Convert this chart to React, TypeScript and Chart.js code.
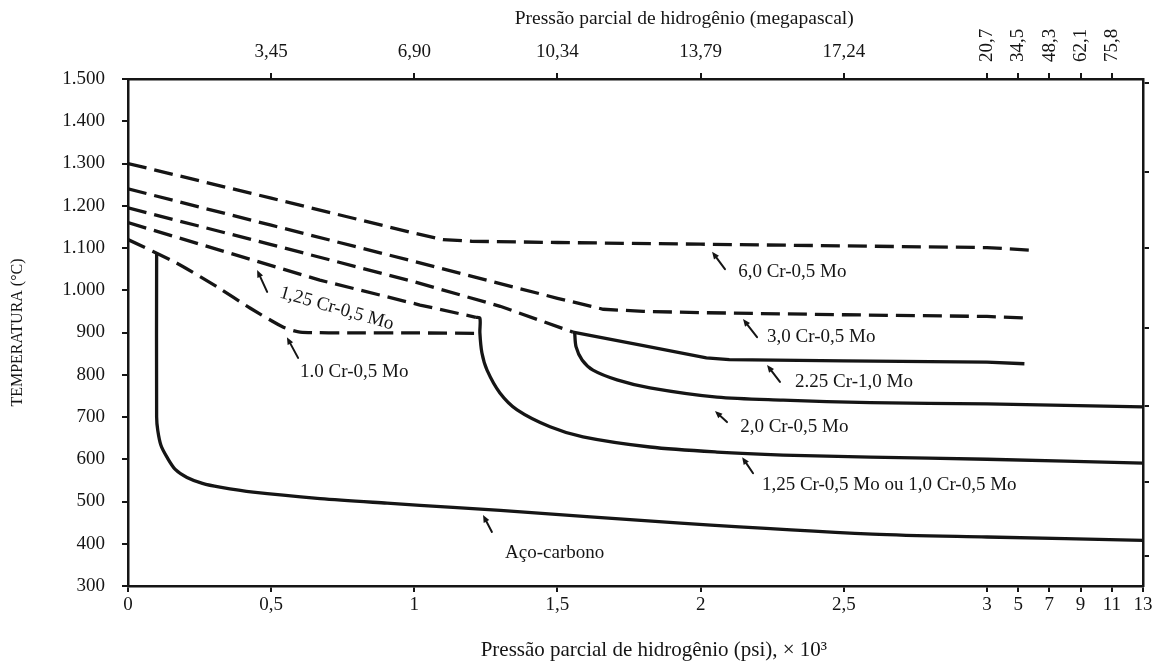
import React, { useEffect, useRef } from 'react';
import { Chart, registerables, LinearScale } from 'chart.js';

Chart.register(...registerables);

const FONT = '"Liberation Serif", "Times New Roman", serif';
const INK = '#151515';

// ---------- axis ticks ----------
const PSI_TICKS = [0, 0.5, 1, 1.5, 2, 2.5, 3, 5, 7, 9, 11, 13];
const PSI_LABELS = ['0', '0,5', '1', '1,5', '2', '2,5', '3', '5', '7', '9', '11', '13'];
const MPA_TICKS = [0.5, 1, 1.5, 2, 2.5];
const MPA_LABELS = ['3,45', '6,90', '10,34', '13,79', '17,24'];
const MPA_HIGH_TICKS = [3, 5, 7, 9, 11];
const MPA_HIGH_LABELS = ['20,7', '34,5', '48,3', '62,1', '75,8'];
const TEMP_TICKS = [300, 400, 500, 600, 700, 800, 900, 1000, 1100, 1200, 1300, 1400, 1500];
const TEMP_LABELS = ['300', '400', '500', '600', '700', '800', '900', '1.000', '1.100', '1.200', '1.300', '1.400', '1.500'];
const RIGHT_TICKS = [1490, 1280, 1100, 910, 725, 545, 370];

// ---------- series: [pressure (psi x 10^3), temperature (°C)] ----------
const CR60_05MO = [[0, 1300], [0.5, 1218], [1.0, 1135], [1.1, 1120], [1.2, 1116], [1.5, 1113], [2.0, 1109], [2.5, 1105], [3, 1101], [5.75, 1095]];
const CR30_05MO = [[0, 1240], [0.5, 1154], [1.0, 1068], [1.5, 981], [1.66, 955], [1.8, 950], [2.0, 947], [2.5, 942], [3, 938], [5.75, 934]];
const CR225_10MO_DASHED = [[0, 1195], [0.5, 1108], [1.0, 1020], [1.3, 962], [1.554, 901]];
const CR225_10MO_SOLID = [[1.554, 901], [1.8, 869], [2.02, 840], [2.1, 836], [2.5, 833], [3, 830], [5.4, 826]];
const CR125_05MO_DASHED = [[0, 1160], [0.32, 1095], [0.67, 1024], [1.02, 965], [1.215, 936]];
const CR10_05MO_DASHED = [[0, 1120], [0.171, 1064], [0.311, 1008], [0.426, 958], [0.541, 913], [0.601, 901], [0.8, 899], [1.0, 899], [1.229, 898]];
const CR20_05MO = [[1.56, 900], [1.565, 866], [1.586, 835], [1.624, 811], [1.708, 788], [1.823, 769], [2.057, 747], [2.288, 740], [2.592, 734], [3, 731], [13, 724]];
const CR125_OR_CR10_SOLID = [[1.215, 936], [1.229, 934], [1.229, 899], [1.236, 852], [1.254, 811], [1.299, 757], [1.359, 717], [1.474, 677], [1.589, 653], [1.823, 629], [2.057, 617], [2.288, 610], [2.592, 605], [3, 600], [13, 591]];
const CARBON_STEEL = [[0.1, 1086], [0.1, 700], [0.104, 668], [0.115, 633], [0.136, 605], [0.165, 576], [0.206, 557], [0.26, 543], [0.321, 534], [0.437, 522], [0.671, 507], [0.905, 496], [1.135, 486], [1.3, 479], [1.93, 449], [2.6, 423], [3, 416], [13, 408]];

// ---------- curve labels (text anchor + arrow tail/tip in data units) ----------
const CURVE_LABELS = [
  { text: '6,0 Cr-0,5 Mo', at: [2.131, 1043], tail: [2.085, 1050], tip: [2.040, 1091], angle: 0 },
  { text: '3,0 Cr-0,5 Mo', at: [2.232, 889], tail: [2.197, 889], tip: [2.148, 932], angle: 0 },
  { text: '2.25 Cr-1,0 Mo', at: [2.330, 783], tail: [2.277, 783], tip: [2.232, 823], angle: 0 },
  { text: '2,0 Cr-0,5 Mo', at: [2.138, 676], tail: [2.092, 688], tip: [2.050, 714], angle: 0 },
  { text: '1,25 Cr-0,5 Mo ou 1,0 Cr-0,5 Mo', at: [2.214, 539], tail: [2.183, 567], tip: [2.145, 605], angle: 0 },
  { text: 'Aço-carbono', at: [1.317, 378], tail: [1.271, 428], tip: [1.240, 468], angle: 0 },
  { text: '1,25 Cr-0,5 Mo', at: [0.531, 995], tail: [0.486, 996], tip: [0.451, 1048], angle: 16 },
  { text: '1.0 Cr-0,5 Mo', at: [0.601, 807], tail: [0.594, 840], tip: [0.555, 889], angle: 0 },
];

// ---------- broken pressure axis (linear to 3, compressed beyond) ----------
const AXIS_BREAK = 3;
const HIGH_RANGE_FACTOR = 0.0545;
const toAxisPos = (v: number) => (v <= AXIS_BREAK ? v : AXIS_BREAK + (v - AXIS_BREAK) * HIGH_RANGE_FACTOR);
const fromAxisPos = (p: number) => (p <= AXIS_BREAK ? p : AXIS_BREAK + (p - AXIS_BREAK) / HIGH_RANGE_FACTOR);

class BrokenLinearScale extends LinearScale {
  static id = 'brokenLinear';
  static defaults = {};
  getPixelForValue(value: any) {
    if (value === null || value === undefined || Number.isNaN(value)) return NaN;
    const lo = toAxisPos(this.min);
    const hi = toAxisPos(this.max);
    return this.getPixelForDecimal((toAxisPos(value) - lo) / (hi - lo));
  }
  getValueForPixel(pixel: number) {
    const lo = toAxisPos(this.min);
    const hi = toAxisPos(this.max);
    return fromAxisPos(lo + this.getDecimalForPixel(pixel) * (hi - lo));
  }
}

// same axis, but its tick labels are not clipped to its (zero-height) box
class BrokenLinearOverlayScale extends BrokenLinearScale {
  static id = 'brokenLinearOverlay';
  static defaults = {};
  _computeLabelArea() {
    return undefined;
  }
}
Chart.register(BrokenLinearScale as any, BrokenLinearOverlayScale as any);

const toPoints = (arr: number[][]) => arr.map(([x, y]) => ({ x, y }));

const curveLabelPlugin = {
  id: 'curveLabels',
  afterDatasetsDraw(chart: any) {
    const { ctx, scales } = chart;
    const xs = scales.x;
    const ys = scales.y;
    ctx.save();
    ctx.fillStyle = INK;
    ctx.strokeStyle = INK;
    ctx.lineWidth = 2;
    ctx.lineCap = 'round';
    for (const l of CURVE_LABELS) {
      const tx = xs.getPixelForValue(l.tail[0]);
      const ty = ys.getPixelForValue(l.tail[1]);
      const hx = xs.getPixelForValue(l.tip[0]);
      const hy = ys.getPixelForValue(l.tip[1]);
      const ang = Math.atan2(hy - ty, hx - tx);
      const head = 8;
      ctx.beginPath();
      ctx.moveTo(tx, ty);
      ctx.lineTo(hx - Math.cos(ang) * head * 0.6, hy - Math.sin(ang) * head * 0.6);
      ctx.stroke();
      ctx.beginPath();
      ctx.moveTo(hx, hy);
      ctx.lineTo(hx - head * Math.cos(ang - 0.4), hy - head * Math.sin(ang - 0.4));
      ctx.lineTo(hx - head * Math.cos(ang + 0.4), hy - head * Math.sin(ang + 0.4));
      ctx.closePath();
      ctx.fill();

      const ax = xs.getPixelForValue(l.at[0]);
      const ay = ys.getPixelForValue(l.at[1]);
      ctx.save();
      ctx.translate(ax, ay);
      ctx.rotate((l.angle * Math.PI) / 180);
      ctx.font = `19px ${FONT}`;
      ctx.textAlign = 'left';
      ctx.textBaseline = 'middle';
      ctx.fillText(l.text, 0, 0);
      ctx.restore();
    }
    ctx.restore();
  },
};

const tickFont = { family: FONT, size: 19 };
const axisGrid = { display: true, drawOnChartArea: false, drawTicks: true, tickLength: 6, color: INK, lineWidth: 2 };
const axisBorder = { display: true, color: INK, width: 2.5 };

function lineDs(label: string, data: number[][], dashed: boolean, tension: number) {
  return {
    label,
    data: toPoints(data),
    borderColor: INK,
    borderWidth: 3.3,
    borderDash: dashed ? [19, 8] : [],
    pointRadius: 0,
    tension,
    fill: false,
    xAxisID: 'x',
    yAxisID: 'y',
  };
}

export default function App() {
  const ref = useRef<HTMLCanvasElement>(null);
  useEffect(() => {
    if (!ref.current) return;
    const chart = new Chart(ref.current, {
      type: 'line',
      data: {
        datasets: [
          lineDs('6,0 Cr-0,5 Mo', CR60_05MO, true, 0),
          lineDs('3,0 Cr-0,5 Mo', CR30_05MO, true, 0),
          lineDs('2.25 Cr-1,0 Mo (tracejado)', CR225_10MO_DASHED, true, 0),
          lineDs('2.25 Cr-1,0 Mo', CR225_10MO_SOLID, false, 0),
          lineDs('1,25 Cr-0,5 Mo (tracejado)', CR125_05MO_DASHED, true, 0),
          lineDs('1.0 Cr-0,5 Mo (tracejado)', CR10_05MO_DASHED, true, 0.2),
          lineDs('2,0 Cr-0,5 Mo', CR20_05MO, false, 0.3),
          lineDs('1,25 Cr-0,5 Mo ou 1,0 Cr-0,5 Mo', CR125_OR_CR10_SOLID, false, 0.3),
          lineDs('Aço-carbono', CARBON_STEEL, false, 0.3),
        ],
      },
      options: {
        responsive: true,
        maintainAspectRatio: false,
        animation: false,
        events: [],
        layout: { padding: 0 },
        plugins: { legend: { display: false }, tooltip: { enabled: false } },
        scales: {
          x: {
            type: 'brokenLinear' as any,
            position: 'bottom',
            min: 0,
            max: 13,
            afterBuildTicks: (s: any) => { s.ticks = PSI_TICKS.map((v) => ({ value: v })); },
            afterFit: (s: any) => { s.height = 77; },
            ticks: {
              autoSkip: false, maxRotation: 0, minRotation: 0, padding: 2, color: INK, font: tickFont,
              callback: (v: any) => PSI_LABELS[PSI_TICKS.indexOf(Number(v))] ?? '',
            },
            grid: axisGrid,
            border: axisBorder,
            title: {
              display: true,
              text: '       Pressão parcial de hidrogênio (psi), × 10³',
              color: INK,
              font: { family: FONT, size: 21 },
              padding: { top: 0, bottom: 0 },
            },
          },
          xTop: {
            type: 'brokenLinearOverlay' as any,
            position: 'top',
            weight: 0,
            min: 0,
            max: 13,
            afterBuildTicks: (s: any) => { s.ticks = MPA_TICKS.map((v) => ({ value: v })); },
            afterFit: (s: any) => { s.height = 0; },
            ticks: {
              autoSkip: false, maxRotation: 0, minRotation: 0, padding: 10, color: INK, font: tickFont,
              callback: (v: any) => MPA_LABELS[MPA_TICKS.indexOf(Number(v))] ?? '',
            },
            grid: axisGrid,
            border: axisBorder,
          },
          xTopHigh: {
            type: 'brokenLinear' as any,
            position: 'top',
            weight: 1,
            min: 0,
            max: 13,
            afterBuildTicks: (s: any) => { s.ticks = MPA_HIGH_TICKS.map((v) => ({ value: v })); },
            afterFit: (s: any) => { s.height = 79; },
            ticks: {
              autoSkip: false, maxRotation: 90, minRotation: 90, padding: 11, labelOffset: 23, color: INK, font: tickFont,
              callback: (v: any) => MPA_HIGH_LABELS[MPA_HIGH_TICKS.indexOf(Number(v))] ?? '',
            },
            grid: axisGrid,
            border: { display: false },
            title: {
              display: true,
              text: '                    Pressão parcial de hidrogênio (megapascal)',
              color: INK,
              font: { family: FONT, size: 19.5 },
              padding: { top: 7, bottom: 0 },
            },
          },
          y: {
            type: 'linear',
            position: 'left',
            min: 300,
            max: 1500,
            afterBuildTicks: (s: any) => { s.ticks = TEMP_TICKS.map((v) => ({ value: v })); },
            afterFit: (s: any) => { s.width = 128; },
            ticks: {
              autoSkip: false, padding: 17, color: INK, font: tickFont,
              callback: (v: any) => TEMP_LABELS[TEMP_TICKS.indexOf(Number(v))] ?? '',
            },
            grid: axisGrid,
            border: axisBorder,
            title: {
              display: true,
              text: 'TEMPERATURA (°C)',
              color: INK,
              font: { family: FONT, size: 16 },
              padding: { top: 8, bottom: 0 },
            },
          },
          yRight: {
            type: 'linear',
            position: 'right',
            min: 300,
            max: 1500,
            afterBuildTicks: (s: any) => { s.ticks = RIGHT_TICKS.map((v) => ({ value: v })); },
            afterFit: (s: any) => { s.width = 18; },
            ticks: { display: false },
            grid: axisGrid,
            border: axisBorder,
          },
        },
      },
      plugins: [curveLabelPlugin],
    } as any);
    return () => chart.destroy();
  }, []);

  return (
    <div style={{ position: 'absolute', left: 0, top: 0, width: 1161, height: 663, background: '#fff' }}>
      <canvas ref={ref} />
    </div>
  );
}
